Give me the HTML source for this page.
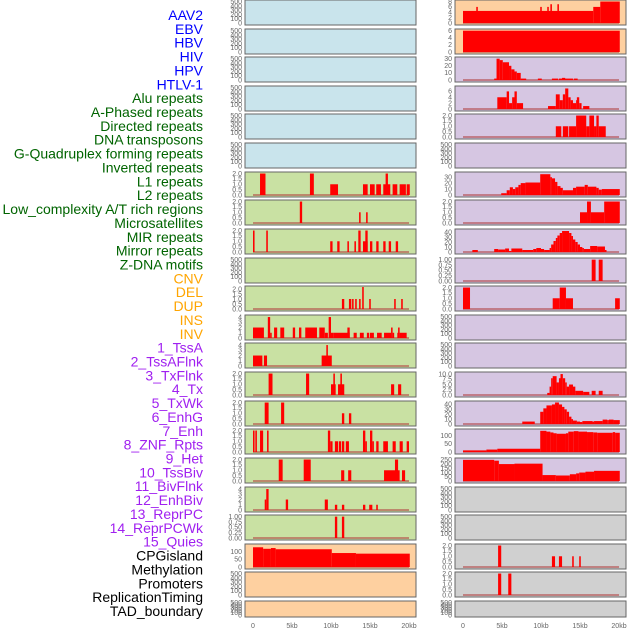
<!DOCTYPE html>
<html><head><meta charset="utf-8">
<style>
html,body{margin:0;padding:0;background:#fff;}
svg{display:block;font-family:"Liberation Sans",sans-serif;}
</style></head>
<body>
<svg id="chart" width="630" height="630" viewBox="0 0 630 630"></svg>
<script>
// ---- labels ----
const labels = ["AAV2","EBV","HBV","HIV","HPV","HTLV-1","Alu repeats","A-Phased repeats","Directed repeats","DNA transposons","G-Quadruplex forming repeats","Inverted repeats","L1 repeats","L2 repeats","Low_complexity A/T rich regions","Microsatellites","MIR repeats","Mirror repeats","Z-DNA motifs","CNV","DEL","DUP","INS","INV","1_TssA","2_TssAFlnk","3_TxFlnk","4_Tx","5_TxWk","6_EnhG","7_Enh","8_ZNF_Rpts","9_Het","10_TssBiv","11_BivFlnk","12_EnhBiv","13_ReprPC","14_ReprPCWk","15_Quies","CPGisland","Methylation","Promoters","ReplicationTiming","TAD_boundary"];
const labelGroups = ["v","v","v","v","v","v","r","r","r","r","r","r","r","r","r","r","r","r","r","s","s","s","s","s","c","c","c","c","c","c","c","c","c","c","c","c","c","c","c","o","o","o","o","o"];
const groupColors = {v:"#0000ff",r:"#006400",s:"#ffa500",c:"#a020f0",o:"#000000"};

// ---- panel backgrounds per row ----
const leftBg  = ["b","b","b","b","b","b","g","g","g","g","g","g","g","g","g","g","g","g","g","p","p","p"];
const rightBg = ["p","p","u","u","u","u","u","u","u","u","u","u","u","u","u","u","u","y","y","y","y","y"];
const bgColors = {b:"#c9e4ec",g:"#c9e1a3",p:"#fed0a0",u:"#d6c6e2",y:"#d0d0d0"};

// ---- y maxima and tick labels ----
const leftYmax = [520,520,520,520,520,520,2.05,2.05,2.05,520,2.2,4.2,4.2,2.05,2.05,2.05,2.05,4.2,1.03,145,520,520];
const rightYmax = [8.2,6.2,31,7.5,2.05,520,37,2.05,44,1.03,2.05,520,520,10.5,45,135,260,520,520,2.05,2.05,520];
const ticks500 = ["0","100","200","300","400","500"];
const ticks2 = ["0.0","0.5","1.0","1.5","2.0"];
const ticks4 = ["0","1","2","3","4"];
const ticks1 = ["0.00","0.25","0.50","0.75","1.00"];
const leftTicks = [ticks500,ticks500,ticks500,ticks500,ticks500,ticks500,ticks2,ticks2,ticks2,ticks500,ticks2,ticks4,ticks4,ticks2,ticks2,ticks2,ticks2,ticks4,ticks1,["0","50","100"],ticks500,ticks500];
const rightTicks = [["0","2","4","6","8"],["0","2","4","6"],["0","10","20","30"],["0","2","4","6"],ticks2,ticks500,["0","10","20","30"],ticks2,["0","10","20","30","40"],ticks1,ticks2,ticks500,ticks500,["0.0","2.5","5.0","7.5","10.0"],["0","10","20","30","40"],["0","50","100"],["0","50","100","150","200","250"],ticks500,ticks500,ticks2,ticks2,ticks500];

// ---- segment data [startKb, endKb, value] ----
const leftData = [[],[],[],[],[],[],
[[0.9,1.6,2],[7.3,7.8,2],[9.9,10.9,1],[14.1,14.7,1],[15,15.6,1],[15.8,16.4,1],[16.7,17.6,1],[17,17.3,2],[17.9,18.5,1],[18.8,19.6,1],[19.7,20.1,1]],
[[6,6.3,2],[13.6,13.8,1],[14.5,14.7,1]],
[[0,0.2,2],[1.7,1.9,2],[9.9,10.2,1],[10.8,11.1,1],[12.1,12.3,1],[13,13.2,1],[13.5,13.8,2],[14.1,14.7,1],[14.4,14.7,2],[15,15.3,1],[15.8,16.1,1],[16.7,17,1],[17.4,17.7,1],[18.3,18.6,1]],
[],
[[11.4,11.7,1],[12.3,12.6,1],[12.7,12.9,1],[13.1,13.3,1],[13.6,13.8,1],[14,14.2,2.2],[14.9,15.1,1],[18.1,18.3,1],[19,19.2,1]],
[[0,1.4,2],[1.9,2.2,4],[2.2,2.4,1],[2.7,3.1,2],[3.5,4,2],[5.1,5.4,2],[5.9,6.2,2],[6.7,8.2,2],[8.5,9.2,2],[9.2,9.6,1],[9.7,10,4],[10,10.3,1],[10.3,12.4,1],[12.1,12.4,2],[12.9,13.3,1],[13.7,14.2,1],[14.6,14.9,1],[15,15.5,1],[15.9,16.5,1],[16.8,17.7,1],[17.7,17.9,2],[17.9,18.1,1],[18.5,18.8,1],[18.6,18.8,2],[18.8,19.7,1]],
[[0,1.2,2],[1.4,1.8,2],[8.8,10.1,2],[9.4,9.6,4]],
[[2,2.5,2],[6.8,7.2,2],[10,10.6,1],[10.3,10.5,2],[10.9,11.7,1],[11.2,11.4,2],[17.7,18.1,1],[18.6,19,1]],
[[1.5,2,2],[3.6,4,2],[11.4,11.7,1],[12.3,12.6,1]],
[[0,0.2,2],[0.3,0.5,2],[0.9,1.3,2],[1.8,2,2],[9.6,9.9,2],[9.9,10.2,1],[10.5,10.9,1],[11,11.3,1],[11.4,11.7,1],[11.9,12.3,1],[14.1,14.4,2],[14.4,14.6,1],[15,15.3,2],[15.3,15.5,1],[15.8,16.1,1],[16.7,17.3,1],[17.9,18.3,1],[18.8,19.2,1],[19.7,20,1]],
[[3.3,3.8,2],[6.5,7.4,2],[11.3,11.7,1],[12.2,12.6,1],[16.8,18.8,1],[18.2,18.6,2],[19.1,19.5,1]],
[[1.5,1.7,2],[1.7,2,4],[4.2,4.5,2],[9.2,9.6,2],[10.5,10.8,1],[11.4,11.7,1],[14.1,14.4,1],[14.9,15.3,1],[15.8,16,1]],
[[10.5,10.8,1],[11.4,11.7,1]],
[[0,1.3,130],[1.3,2.3,120],[2.3,2.9,125],[2.9,10.1,117],[10.1,13.2,92],[13.2,20.1,88]],
[],[]];

const rightData = [
[[0,16.7,4.5],[1.7,1.9,6],[9.9,10.1,6],[10.8,11,6],[11.2,11.4,7],[12.1,12.3,7],[16.7,17.6,6],[17.6,20.1,8]],
[[0,20.1,6]],
[[4,4.3,2],[4.3,4.7,30],[4.7,5.1,28],[5.1,5.9,25],[5.9,6.2,20],[6.2,6.6,15],[6.6,6.9,12],[6.9,7.4,10],[7.4,8.1,2],[9.6,10.1,2],[11.4,12.2,2],[12.3,14.1,2],[12.7,13.1,3],[14.2,14.7,2]],
[[4.4,5.6,4],[5.6,5.9,6],[5.9,6.3,2],[6.3,6.6,4],[6.6,6.9,6],[6.9,7.7,2],[10.9,11.9,1],[11.9,12.4,5],[12.4,12.8,3],[12.8,13.1,5],[13.1,13.5,7],[13.5,13.8,4],[13.8,14.1,3],[14.1,14.5,2],[14.5,14.6,3],[14.6,14.9,4],[14.9,15.2,2],[15.4,16.2,1]],
[[11.9,12.6,1],[12.8,13.5,1],[13.6,14.5,1],[14.5,15.8,2],[15.8,16.2,1],[16.2,16.8,2],[16.8,17.1,1],[17.1,17.4,2],[17.4,18.3,1]],
[],
[[4.9,5.6,3],[5.6,6,8],[6,6.4,13],[6.4,6.7,10],[6.7,7.1,13],[7.1,7.4,17],[7.4,8,20],[8,9.9,21],[9.9,11.2,35],[11.2,11.4,30],[11.4,11.8,28],[11.8,12.1,22],[12.1,12.5,15],[12.5,12.8,12],[12.8,14.1,8],[14.1,14.5,12],[14.5,15.6,14],[15.6,16,17],[16,17.1,14],[17.1,17.4,12],[17.4,17.8,9],[17.8,20.1,10]],
[[15,15.9,1],[15.9,16.4,2],[16.4,18.1,1],[18.1,20.1,2]],
[[1.2,1.9,4],[4,4.5,6],[4.5,5.4,5],[5.4,5.9,7],[5.9,6.2,2],[6.2,7.6,7],[7.6,9,4],[9,9.4,6],[9.4,10,8],[10,10.4,6],[10.4,11.1,4],[11.1,11.3,8],[11.3,11.6,15],[11.6,11.9,22],[11.9,12.1,28],[12.1,12.4,33],[12.4,12.7,38],[12.7,13.6,42],[13.6,13.9,38],[13.9,14.1,32],[14.1,14.4,25],[14.4,14.7,20],[14.7,15,15],[15,15.3,10],[15.3,15.5,8],[15.5,16.3,6],[16.3,17.2,12],[17.2,18.2,11],[18.2,18.4,4]],
[[16.5,17,1],[17.4,17.9,1]],
[[0,0.9,2],[11.5,12.4,1],[12.4,13.2,2],[13.2,14.1,1],[19.5,20.1,1]],
[],[],
[[10.8,11.1,1],[11.1,11.3,4],[11.3,11.5,8],[11.5,12,9],[12,12.3,6],[12.3,12.5,8],[12.5,12.8,10],[12.8,13.1,8],[13.1,13.3,6],[13.3,13.6,4],[13.6,14.1,5],[14.1,14.4,4],[14.4,15.4,2],[15.4,16.2,1.5],[16.5,17,2],[17.4,17.9,2]],
[[7.6,9.2,5],[9.9,10.3,25],[10.3,10.7,32],[10.7,11.4,38],[11.4,11.8,40],[11.8,12.3,44],[12.3,12.7,40],[12.7,13,35],[13,13.3,30],[13.3,13.6,25],[13.6,13.9,15],[13.9,14.1,10],[14.1,14.6,7],[14.6,15,5],[15,15.3,4],[15.3,16.6,6],[16.6,16.8,5],[16.8,17.9,6],[17.9,18.5,9],[18.5,18.7,8],[18.7,19.3,9],[19.3,20.1,8]],
[[0,3,10],[3,4.4,15],[4.4,9.9,20],[9.9,10.7,130],[10.7,11.2,125],[11.2,11.6,120],[11.6,12,115],[12,13.2,112],[13.2,13.5,115],[13.5,14.2,125],[14.2,14.8,128],[14.8,15.9,125],[15.9,16.7,122],[16.7,17.2,120],[17.2,19.2,118],[19.2,19.5,122],[19.5,20.1,118]],
[[0,4,250],[4,4.6,240],[4.6,6.6,200],[6.6,10.2,205],[10.2,11.9,70],[11.9,13.7,65],[13.7,14.5,80],[14.5,14.9,90],[14.9,15.7,100],[15.7,16.8,110],[16.8,20.1,120]],
[],[],
[[4.5,4.9,2],[11.4,11.8,1],[12.3,12.7,1],[14,14.2,1],[14.9,15.1,1]],
[[4.5,4.9,2],[5.8,6.2,2]],
[]];

const xTicks = [0,5,10,15,20];
const xTickLabels = ["0","5kb","10kb","15kb","20kb"];

// ---- drawing ----
const NS = "http://www.w3.org/2000/svg";
const svg = document.getElementById("chart");
function mk(tag, attrs, parent){ const e=document.createElementNS(NS,tag); for(const k in attrs) e.setAttribute(k,attrs[k]); (parent||svg).appendChild(e); return e; }

const leftX0 = 245, rightX0 = 455, panelW = 171;
function rowTop(i){ return Math.round(i*28.62); }
function rowH(i){ return i===21 ? 16 : 25; }
function xScale(panelX, kb){ return panelX + 8 + kb*7.8; }
function yScale(top, h, ymax, v){ const y0 = top+h-2, y1 = top+1; return y0 - (v/ymax)*(y0-y1); }

labels.forEach((t,i)=>{
  const tx = mk("text",{x:203,y:15+i*13.86+5,"text-anchor":"end","font-size":"14",fill:groupColors[labelGroups[i]]});
  tx.textContent = t;
  
  
});

function drawPanel(side, i, px, bg, ymax, tickLabels, data){
  const top = rowTop(i), h = rowH(i);
  const g = mk("g",{});
  
  
  mk("rect",{x:px,y:top,width:panelW,height:h,fill:bgColors[bg],stroke:"#666","stroke-width":"1"},g);
  tickLabels.forEach((lab)=>{
    const y = yScale(top,h,ymax,parseFloat(lab));
    const t = mk("text",{x:px-3,y:y+2.3,"text-anchor":"end","font-size":"7",fill:"#666"},g);
    t.textContent = lab;
    
    
  });
  if(data.length){
    const base = mk("rect",{x:xScale(px,0),y:top+h-3,width:xScale(px,20)-xScale(px,0),height:2,fill:"#b04040",opacity:"0.55"},g);
    
    
  }
  data.forEach(d=>{
    const x1 = xScale(px,d[0]), x2 = xScale(px,d[1]);
    const y = yScale(top,h,ymax,d[2]);
    const b = mk("rect",{x:x1,y:y,width:Math.max(1,x2-x1),height:(top+h-2)-y,fill:"#ff0000"},g);
    
    
  });
}

for(let i=0;i<22;i++){
  drawPanel("left", i, leftX0, leftBg[i], leftYmax[i], leftTicks[i], leftData[i]);
  drawPanel("right", i, rightX0, rightBg[i], rightYmax[i], rightTicks[i], rightData[i]);
}

[leftX0,rightX0].forEach(px=>{
  xTicks.forEach((v,k)=>{
    const t = mk("text",{x:xScale(px,v),y:628,"text-anchor":"middle","font-size":"7",fill:"#666"});
    t.textContent = xTickLabels[k];
    
    
  });
});
</script>
</body></html>
